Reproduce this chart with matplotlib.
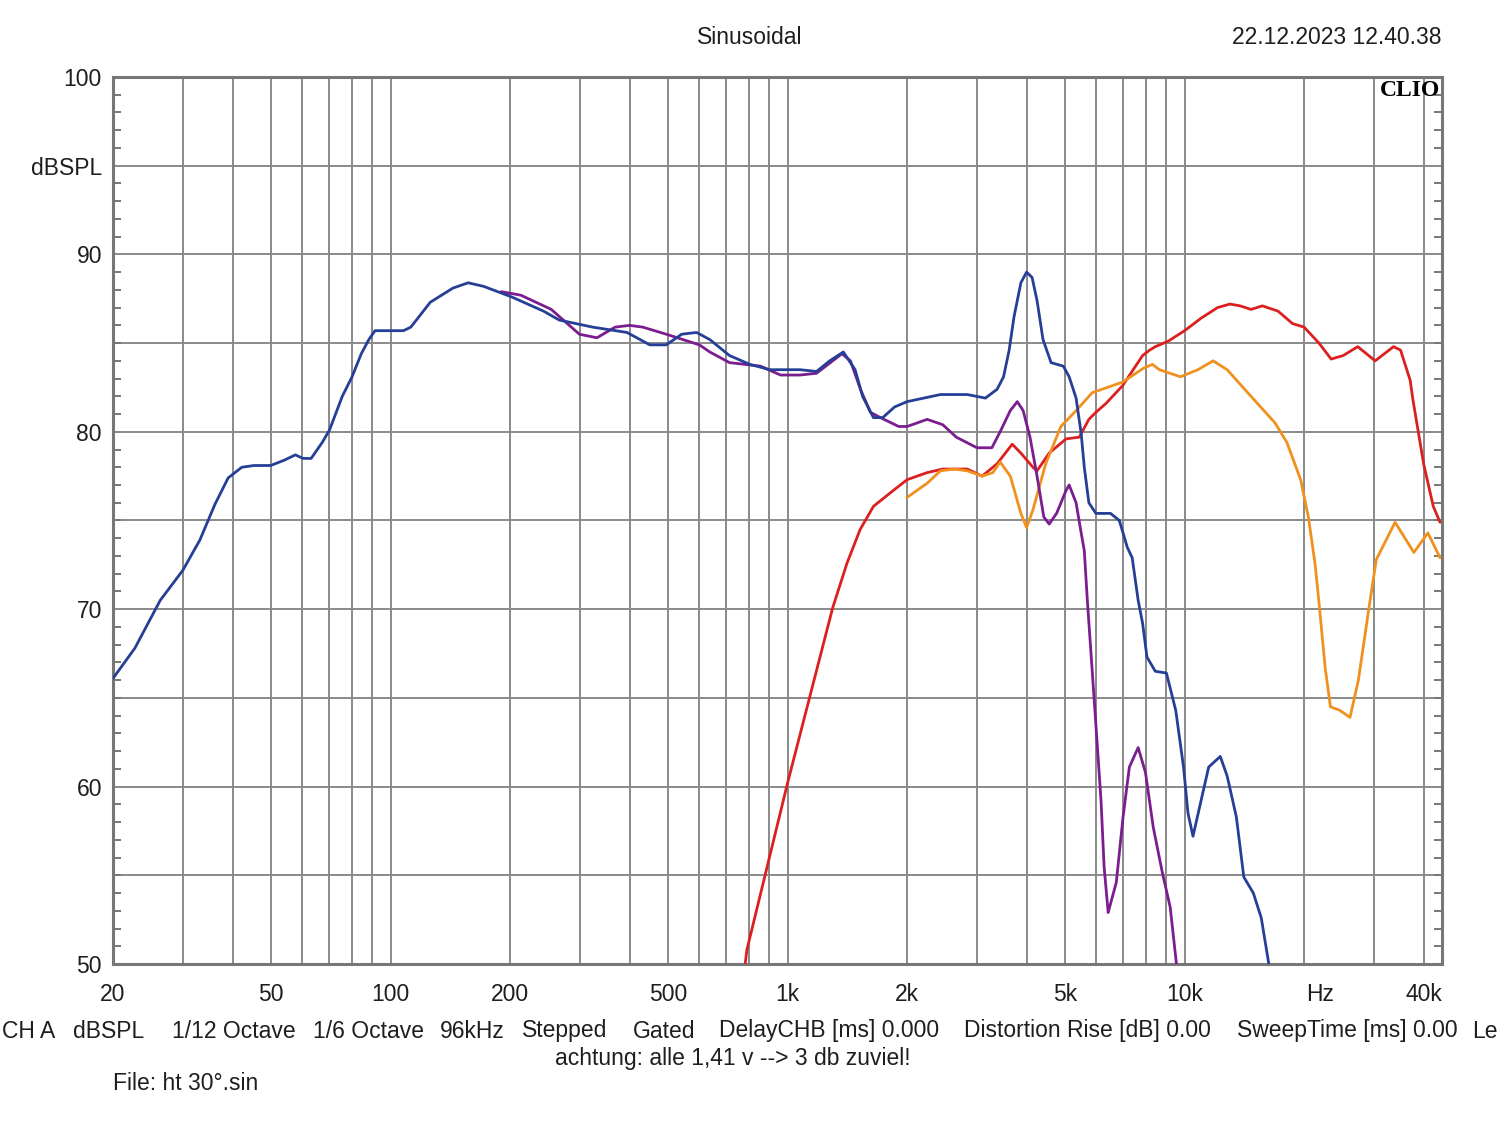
import matplotlib
matplotlib.use("Agg")
import matplotlib.pyplot as plt
from matplotlib.ticker import MultipleLocator, NullFormatter, FixedLocator

# ---------------- data ----------------
blue_f = [20, 22.7, 26.3, 30, 33.1, 36.1, 39.0, 42.2, 45.3, 49.9, 54, 57.6, 60.2, 63.1,
          67.3, 70.2, 75.6, 80.0, 84.4, 88.2, 91.4, 100, 107.8, 112.5, 125.9, 143.6,
          156.9, 171.5, 202, 243, 266, 323, 394, 450, 495, 541, 590, 637, 714, 804,
          903, 1076, 1183, 1277, 1382, 1480, 1545, 1646, 1737, 1860, 2000, 2427, 2836,
          3150, 3372, 3500, 3615, 3720, 3870, 4000, 4130, 4250, 4400, 4610, 4950, 5120,
          5330, 5490, 5590, 5740, 5980, 6510, 6850, 7170, 7380, 7640, 7840, 8040, 8440,
          9000, 9500, 9940, 10200, 10500, 11000, 11500, 12300, 12800, 13500, 14100,
          14900, 15600, 16300]
blue_db = [66.1, 67.8, 70.5, 72.2, 73.9, 75.9, 77.4, 78.0, 78.1, 78.1, 78.4, 78.7, 78.5, 78.5,
           79.4, 80.1, 82.0, 83.1, 84.4, 85.2, 85.7, 85.7, 85.7, 85.9, 87.3, 88.1,
           88.4, 88.2, 87.6, 86.8, 86.3, 85.9, 85.6, 84.9, 84.9, 85.5, 85.6, 85.2, 84.3, 83.8,
           83.5, 83.5, 83.4, 84.0, 84.5, 83.5, 82.0, 80.8, 80.8, 81.4, 81.7, 82.1, 82.1,
           81.9, 82.4, 83.1, 84.6, 86.5, 88.4, 89.0, 88.7, 87.4, 85.2, 83.9, 83.7, 83.1,
           81.9, 79.9, 78.0, 76.0, 75.4, 75.4, 75.0, 73.5, 72.9, 70.5, 69.2, 67.3, 66.5,
           66.4, 64.3, 61.1, 58.5, 57.2, 59.2, 61.1, 61.7, 60.6, 58.3, 54.9,
           54.0, 52.6, 50.0]

purple_f = [190, 213, 254, 299, 331, 368, 400, 432, 495, 600, 637, 714, 855, 960, 1076,
            1183, 1371, 1440, 1526, 1617, 1713, 1905, 2000, 2247, 2460, 2660, 3000, 3270,
            3431, 3640, 3790, 3920, 4080, 4250, 4420, 4560, 4760, 5030, 5120, 5330, 5490,
            5590, 5690, 5920, 6160, 6270, 6420, 6730, 7000, 7260, 7640, 7970, 8340, 8800,
            9200, 9540]
purple_db = [87.9, 87.7, 86.9, 85.5, 85.3, 85.9, 86.0, 85.9, 85.5, 84.9, 84.5, 83.9, 83.7, 83.2, 83.2,
             83.3, 84.4, 84.0, 82.4, 81.1, 80.8, 80.3, 80.3, 80.7, 80.4, 79.7, 79.1, 79.1,
             80.0, 81.2, 81.7, 81.2, 79.7, 77.5, 75.2, 74.8, 75.4, 76.7, 77.0, 76.0, 74.3,
             73.3, 70.5, 64.9, 59.2, 55.5, 52.9, 54.6, 58.3, 61.1, 62.2, 60.8, 57.7, 55.1,
             53.2, 50.0]

red_f = [782, 790, 1000, 1160, 1300, 1412, 1524, 1646, 1848, 2000, 2247, 2460, 2836, 3090,
         3372, 3680, 3870, 4150, 4250, 4560, 5030, 5430, 5740, 5980, 6340, 6980, 7840,
         8160, 8440, 9080, 10000, 11000, 12100, 13000, 13800, 14700, 15700, 17200, 18700,
         20000, 21800, 23400, 25100, 27300, 30200, 33600, 35000, 37000, 37600, 40000,
         42300, 44000]
red_db = [50.0, 50.8, 60.2, 65.8, 70.1, 72.6, 74.5, 75.8, 76.7, 77.3, 77.7, 77.9, 77.9, 77.5,
          78.2, 79.3, 78.8, 78.0, 77.8, 78.8, 79.6, 79.7, 80.7, 81.1, 81.6, 82.6, 84.3,
          84.6, 84.8, 85.1, 85.7, 86.4, 87.0, 87.2, 87.1, 86.9, 87.1, 86.8, 86.1,
          85.9, 85.0, 84.1, 84.3, 84.8, 84.0, 84.8, 84.6, 82.9, 81.8, 78.2,
          75.8, 74.9]

orange_f = [2000, 2247, 2427, 2630, 2836, 3090, 3290, 3431, 3640, 3870, 4000, 4150, 4470,
            4880, 5334, 5850, 6576, 6980, 7900, 8300, 8640, 9770, 10800, 11800, 12800,
            14700, 16900, 18100, 19600, 20500, 21300, 21800, 22600, 23300, 24600, 26100,
            27400, 29100, 30400, 33900, 37800, 41000, 44000]
orange_db = [76.3, 77.1, 77.8, 77.9, 77.8, 77.5, 77.7, 78.3, 77.5, 75.4, 74.6, 75.6, 78.2,
             80.3, 81.2, 82.2, 82.6, 82.8, 83.6, 83.8, 83.5, 83.1, 83.5, 84.0, 83.5,
             82.0, 80.5, 79.4, 77.3, 75.2, 72.6, 70.4, 66.7, 64.5, 64.3, 63.9,
             66.0, 70.0, 72.8, 74.9, 73.2, 74.3, 72.9]

x_grid = [30, 40, 50, 60, 70, 80, 90, 100, 200, 300, 400, 500, 600, 700, 800, 900,
          1000, 2000, 3000, 4000, 5000, 6000, 7000, 8000, 9000, 10000, 20000, 30000, 40000]
y_grid = [55, 60, 65, 70, 75, 80, 85, 90, 95]
x_tick_pos = [20, 50, 100, 200, 500, 1000, 2000, 5000, 10000, 21900, 40000]
x_tick_lab = ["20", "50", "100", "200", "500", "1k", "2k", "5k", "10k", "Hz", "40k"]
y_tick_pos = [50, 60, 70, 80, 90, 95, 100]
y_tick_lab = ["50", "60", "70", "80", "90", "dBSPL", "100"]

W, H = 1500, 1121
FONT = ["Liberation Sans", "DejaVu Sans"]
FS = 16.5
GRID_C = "#8a8a8a"
TEXT_C = "#1e1e1e"

plt.rcParams["font.family"] = FONT

fig = plt.figure(figsize=(W / 100, H / 100), dpi=100)
fig.patch.set_facecolor("white")
L, R, T, B = 113, 1442, 77, 964
ax = fig.add_axes([L / W, 1 - B / H, (R - L) / W, (B - T) / H])
ax.set_xscale("log")
ax.set_xlim(20, 44500)
ax.set_ylim(50, 100)

for xv in x_grid:
    ax.axvline(xv, color=GRID_C, lw=1.4, zorder=1)
for yv in y_grid:
    ax.axhline(yv, color=GRID_C, lw=1.4, zorder=1)

lw = 2.0
kw = dict(lw=lw, solid_joinstyle="round", solid_capstyle="round")
ax.plot(red_f, red_db, color="#dc1f1f", zorder=3, **kw)
ax.plot(orange_f, orange_db, color="#f0901e", zorder=3, **kw)
ax.plot(purple_f, purple_db, color="#7b1d8e", zorder=4, **kw)
ax.plot(blue_f, blue_db, color="#253f96", zorder=5, **kw)

for s in ax.spines.values():
    s.set_color("#777777")
    s.set_linewidth(2.2)

ax.xaxis.set_major_locator(FixedLocator(x_tick_pos))
ax.set_xticklabels(x_tick_lab)
ax.xaxis.set_minor_locator(FixedLocator([]))
ax.xaxis.set_minor_formatter(NullFormatter())
ax.set_yticks(y_tick_pos)
ax.set_yticklabels(y_tick_lab)
ax.yaxis.set_minor_locator(MultipleLocator(1))
ax.tick_params(axis="x", which="major", length=0, pad=14, labelsize=FS, labelcolor=TEXT_C)
ax.tick_params(axis="y", which="major", length=0, pad=8, labelsize=FS, labelcolor=TEXT_C)
ax.tick_params(axis="y", which="minor", direction="in", length=6, width=1.4,
               color="#777777", left=True, right=True)

def fx(x):
    return x / W

def fy(y):
    return 1 - y / H

fig.text(fx(750), fy(38), "Sinusoidal", ha="center", va="center", fontsize=FS, color=TEXT_C)
fig.text(fx(1442), fy(38), "22.12.2023 12.40.38", ha="right", va="center", fontsize=FS, color=TEXT_C)
fig.text(fx(1440), fy(90), "CLIO", ha="right", va="center", fontsize=17,
         family=["Liberation Serif", "DejaVu Serif"], weight="bold", color="black")

bottom_items = [(2, "CH A"), (73, "dBSPL"), (172, "1/12 Octave"), (313, "1/6 Octave"),
                (440, "96kHz"), (522, "Stepped"), (633, "Gated"),
                (719, "DelayCHB [ms] 0.000"), (964, "Distortion Rise [dB] 0.00"),
                (1237, "SweepTime [ms] 0.00"), (1472, "Le")]
for xp, txt in bottom_items:
    fig.text(fx(xp), fy(1031), txt, ha="left", va="center", fontsize=FS, color=TEXT_C)
fig.text(fx(733), fy(1058), "achtung: alle 1,41 v --> 3 db zuviel!", ha="center", va="center",
         fontsize=FS, color=TEXT_C)
fig.text(fx(113), fy(1083), "File: ht 30°.sin", ha="left", va="center", fontsize=FS, color=TEXT_C)

fig.savefig("out.png", dpi=100, facecolor="white")
